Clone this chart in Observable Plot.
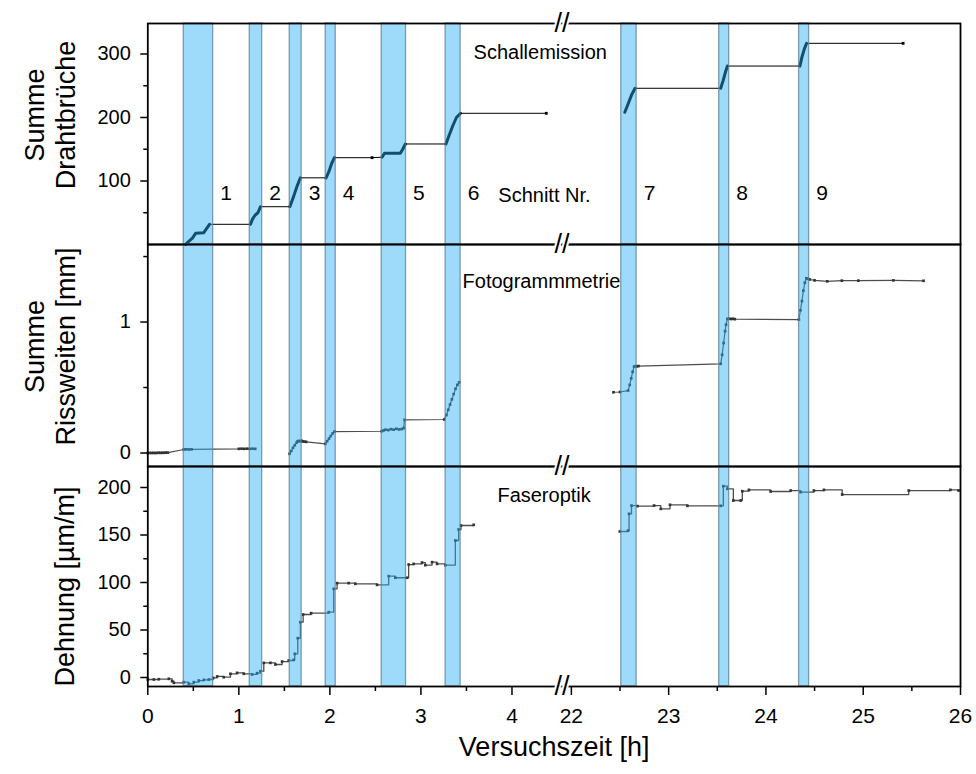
<!DOCTYPE html>
<html>
<head>
<meta charset="utf-8">
<script src="https://cdn.jsdelivr.net/npm/d3@7"></script>
<script src="https://cdn.jsdelivr.net/npm/@observablehq/plot@0.6"></script>
<style>
  html, body { margin: 0; padding: 0; background: #fff; }
  #chart { position: relative; width: 976px; height: 774px; background: #fff; }
  #chart svg { position: absolute; left: 0; }
</style>
</head>
<body>
<div id="chart"></div>
<script>
// ---------- shared x axis (broken: 0–4.5 h and 22–26 h) ----------
const xBreakDomain = [0, 4.5, 21.95, 26];
const xBreakRange = [147.3, 557, 566, 960];
const xTicks = [0, 1, 2, 3, 4, 22, 23, 24, 25, 26];
const xMinorTicks = [0.5, 1.5, 2.5, 3.5, 22.5, 23.5, 24.5, 25.5];
const breakMid = [13];

// ---------- cutting intervals (Schnitt Nr.) ----------
const bandStart = [0.395, 1.12, 1.559, 1.954, 2.569, 3.271, 22.513, 23.52, 24.341];
const bandEnd   = [0.718, 1.256, 1.69, 2.064, 2.836, 3.436, 22.671, 23.622, 24.444];
const bandLabels = ["1", "2", "3", "4", "5", "6", "7", "8", "9"];

// ---------- Schallemission: Summe Drahtbrüche ----------
const aeTime = [0.415,0.45,0.49,0.525,0.615,0.645,0.678, 1.128,1.15,1.18,1.21,1.237, 1.56,1.6,1.64,1.676,
  1.958,1.99,2.02,2.05, 2.463, 2.573,2.6,2.774,2.8,2.829, 3.275,3.31,3.35,3.39,3.435, 4.377,
  22.549,22.58,22.62,22.655, 23.535,23.56,23.585,23.604, 24.349,24.37,24.395,24.418, 25.41];
const aeSum = [0,5,10,17.6,18.6,25,31.8, 31.8,40,46.5,50,59.5, 59.5,75,92,105,
  105,115,128,136.7, 136.7, 137.5,143.6,143.6,150,158.3, 158.3,172,187,200,206.6, 206.6,
  208.2,220,236,246, 246,258,272,281, 281,295,308,316.8, 316.8];
const aeMarkerTimes = [2.463, 4.377, 25.41];
const aeTicks = [100, 200, 300];
const aeMinorTicks = [50, 150, 250];

// ---------- Fotogrammetrie: Summe Rissweiten [mm] ----------
const fgTime = [0,0.02,0.04,0.06,0.08,0.10,0.12,0.14,0.16,0.18,0.20,0.22, 0.395,0.42,0.45,0.48,
  1.0,1.03,1.06,1.09,1.12,1.15,1.18,
  1.557,1.575,1.595,1.615,1.635,1.645,1.66,1.675,1.69,1.705,1.72,1.74,1.95,1.97,1.99,2.01,2.03,2.05,
  2.569,2.59,2.61,2.64,2.67,2.70,2.73,2.76,2.79,2.81,2.82,
  3.256,3.28,3.30,3.32,3.34,3.36,3.38,3.40,3.42,
  22.433,22.5,22.583,22.6,22.615,22.63,22.645,22.66,22.675,22.69,
  23.535,23.55,23.565,23.58,23.59,23.604,23.62,23.64,23.66,23.68,
  24.339,24.355,24.37,24.385,24.40,24.415,24.43,24.45,24.5,24.63,24.78,24.95,25.31,25.62];
const fgWidth = [0,0.001,0,0.001,0,0.001,0.002,0.001,0.002,0.002,0.003,0.003, 0.027,0.028,0.027,0.028,
  0.032,0.033,0.032,0.033,0.032,0.033,0.032,
  -0.006,0.015,0.04,0.06,0.08,0.09,0.092,0.09,0.093,0.088,0.087,0.085,0.07,0.09,0.11,0.13,0.15,0.164,
  0.166,0.172,0.178,0.175,0.182,0.178,0.185,0.18,0.183,0.19,0.253,
  0.256,0.29,0.33,0.37,0.41,0.45,0.49,0.52,0.54,
  0.464,0.466,0.477,0.52,0.57,0.62,0.66,0.663,0.662,0.664,
  0.681,0.75,0.84,0.93,0.98,1.024,1.026,1.023,1.025,1.022,
  1.019,1.09,1.16,1.24,1.30,1.334,1.33,1.325,1.318,1.311,1.316,1.316,1.318,1.315];
const fgSegment = [...Array(23).fill("A"), ...Array(38).fill("B"), ...Array(34).fill("C")];
const fgTicks = [0, 1];
const fgMinorTicks = [0.5, 1.5];

// ---------- Faseroptik: Dehnung [µm/m] ----------
const foTime = [0,0.066,0.121,0.231,0.267,0.286,0.395,0.45,0.505,0.56,0.615,0.67,0.718,0.762,0.834,0.908,
  0.981,1.054,1.146,1.2,1.237,1.274,1.347,1.402,1.475,1.548,1.603,1.614,1.647,1.676,1.706,1.794,1.987,
  2.042,2.079,2.206,2.28,2.518,2.646,2.719,2.847,2.865,2.92,3.012,3.048,3.122,3.177,3.268,3.378,3.414,3.44,3.579,
  22.498,22.583,22.593,22.618,22.68,22.85,22.919,23.014,23.193,23.535,23.562,23.604,23.665,23.74,23.757,
  23.825,24.048,24.254,24.356,24.493,24.596,24.784,25.468,25.896,25.98];
const foStrain = [-2.1,-2.1,-1.8,-1.4,-3.9,-5.6,-4.9,-6.7,-4.9,-3.2,-2.5,-2.1,-0.4,1.1,0.3,3.9,
  4.9,3.9,3.2,4.6,6.7,15.4,15.4,13.7,16.8,17.9,18.6,24.9,41.4,58.2,66.3,67.7,68.8,
  93.3,99.3,99.3,98.6,97.5,106.7,105,105,118.9,119.6,121,118.2,121.4,119.6,118.2,144.2,155.8,160,160.7,
  153.7,154.7,172.3,181,180.4,181,177.5,181.8,180.7,180.7,201.4,198.6,186.3,186.3,196.1,
  197.5,195.8,196.8,195.1,196.8,197.5,192.6,196.8,197.5,196.8];
const foTicks = [0, 50, 100, 150, 200];
const foMinorTicks = [25, 75, 125, 175];

// ---------- tables ----------
const bands = bandStart.map((s, i) => ({start: s, end: bandEnd[i], label: bandLabels[i], idx: i}));
const bandOf = t => bands.findIndex(b => t >= b.start && t <= b.end);
const seg = t => (t < 10 ? "links" : "rechts");
const ae = aeTime.map((t, i) => ({t, v: aeSum[i], seg: seg(t)}));
const fg = fgTime.map((t, i) => ({t, v: fgWidth[i], seg: fgSegment[i]}));
const fo = foTime.map((t, i) => ({t, v: foStrain[i], seg: seg(t)}));

const FONT = "'Liberation Sans', Arial, Helvetica, sans-serif";
const W = 976, ML = 147.3, MR = 16;
const xScale = {type: "linear", domain: xBreakDomain, range: xBreakRange, axis: null};
const xScaleAxis = {type: "linear", domain: xBreakDomain, range: xBreakRange};
const baseStyle = {fontFamily: FONT, background: "transparent", overflow: "visible", color: "black"};

const bandRects = () => Plot.rect(bands, {
  x1: "start", x2: "end",
  fill: "#29b0f5", fillOpacity: 0.45,
  stroke: "#5d7f95", strokeOpacity: 0.75, strokeWidth: 1.3
});
const breakMark = (anchor) => Plot.text(breakMid, {
  x: d => d, text: () => "//", frameAnchor: anchor, lineAnchor: "middle", fontSize: 27,
  fill: "black", stroke: "white", strokeWidth: 4, paintOrder: "stroke"
});
const yAxes = (major, minor) => [
  Plot.axisY({ticks: major, tickSize: 7, tickPadding: 10, fontSize: 20, label: null, strokeWidth: 1.5, tickFormat: d => String(d)}),
  Plot.axisY({ticks: minor, tickSize: 4, text: null, label: null, strokeWidth: 1.5})
];
const panelTitle = (txt, x, dy) => Plot.text([txt], {
  x: () => x, text: d => d, frameAnchor: "top", dy, textAnchor: "start", lineAnchor: "middle", fontSize: 20
});
const yTitle = (txt, dx, dy) => Plot.text([txt], {
  text: d => d, frameAnchor: "left", rotate: -90, dx, dy,
  textAnchor: "middle", lineAnchor: "middle", fontSize: 27, lineHeight: 1.12
});

const chart = document.getElementById("chart");
function place(svg, top) { svg.style.top = top + "px"; chart.appendChild(svg); }

// ---------- Panel 1: Schallemission ----------
const p1 = Plot.plot({
  width: W, height: 244, marginTop: 23, marginBottom: 0, marginLeft: ML, marginRight: MR,
  x: xScale, y: {domain: [0, 348]},
  style: baseStyle,
  marks: [
    Plot.line(ae, {x: "t", y: "v", z: "seg", stroke: "black", strokeWidth: 1}),
    Plot.line(ae.filter(d => bandOf(d.t) >= 0), {x: "t", y: "v", z: d => bandOf(d.t), stroke: "black", strokeWidth: 3}),
    Plot.dot(ae.filter(d => aeMarkerTimes.includes(d.t)), {x: "t", y: "v", r: 1.6, fill: "black", symbol: "square"}),
    bandRects(),
    Plot.text(bands, {x: "end", text: "label", frameAnchor: "bottom", dy: -51, dx: 7, textAnchor: "start", lineAnchor: "middle", fontSize: 21}),
    Plot.text(["Schnitt Nr."], {x: () => 3.85, text: d => d, frameAnchor: "bottom", dy: -49, textAnchor: "start", lineAnchor: "middle", fontSize: 20}),
    panelTitle("Schallemission", 3.578, 29),
    yTitle("Summe\nDrahtbrüche", -98, -19),
    Plot.frame({stroke: "black", strokeWidth: 1.8}),
    breakMark("top"),
    ...yAxes(aeTicks, aeMinorTicks)
  ]
});
place(p1, 0);

// ---------- Panel 2: Fotogrammetrie ----------
const p2 = Plot.plot({
  width: W, height: 222, marginTop: 0, marginBottom: 0, marginLeft: ML, marginRight: MR,
  x: xScale, y: {domain: [-0.103, 1.592]},
  style: baseStyle,
  marks: [
    Plot.line(fg, {x: "t", y: "v", z: "seg", stroke: "#4d4d4d", strokeWidth: 1.2}),
    Plot.dot(fg, {x: "t", y: "v", r: 1.5, fill: "#333", symbol: "square"}),
    bandRects(),
    panelTitle("Fotogrammmetrie", 3.457, 37),
    yTitle("Summe\nRissweiten [mm]", -98, -9),
    Plot.frame({stroke: "black", strokeWidth: 1.8}),
    breakMark("top"),
    ...yAxes(fgTicks, fgMinorTicks)
  ]
});
place(p2, 244);

// ---------- Panel 3: Faseroptik ----------
const p3 = Plot.plot({
  width: W, height: 308, marginTop: 0, marginBottom: 88, marginLeft: ML, marginRight: MR,
  x: xScaleAxis, y: {domain: [-9.47, 222.1]},
  style: baseStyle,
  marks: [
    Plot.line(fo, {x: "t", y: "v", z: "seg", curve: "step-after", stroke: "#4d4d4d", strokeWidth: 1.3}),
    Plot.dot(fo, {x: "t", y: "v", r: 1.5, fill: "#333", symbol: "square"}),
    bandRects(),
    panelTitle("Faseroptik", 3.84, 29),
    yTitle("Dehnung [µm/m]", -83, 10),
    Plot.text(["Versuchszeit [h]"], {text: d => d, frameAnchor: "bottom", dy: 61, lineAnchor: "middle", textAnchor: "middle", fontSize: 27}),
    Plot.frame({stroke: "black", strokeWidth: 1.8}),
    breakMark("top"),
    breakMark("bottom"),
    ...yAxes(foTicks, foMinorTicks),
    Plot.axisX({ticks: xTicks, tickSize: 9, tickPadding: 13, fontSize: 21, label: null, strokeWidth: 1.5, tickFormat: d => String(d)}),
    Plot.axisX({ticks: xMinorTicks, tickSize: 5, text: null, label: null, strokeWidth: 1.5})
  ]
});
place(p3, 466);
</script>
</body>
</html>
